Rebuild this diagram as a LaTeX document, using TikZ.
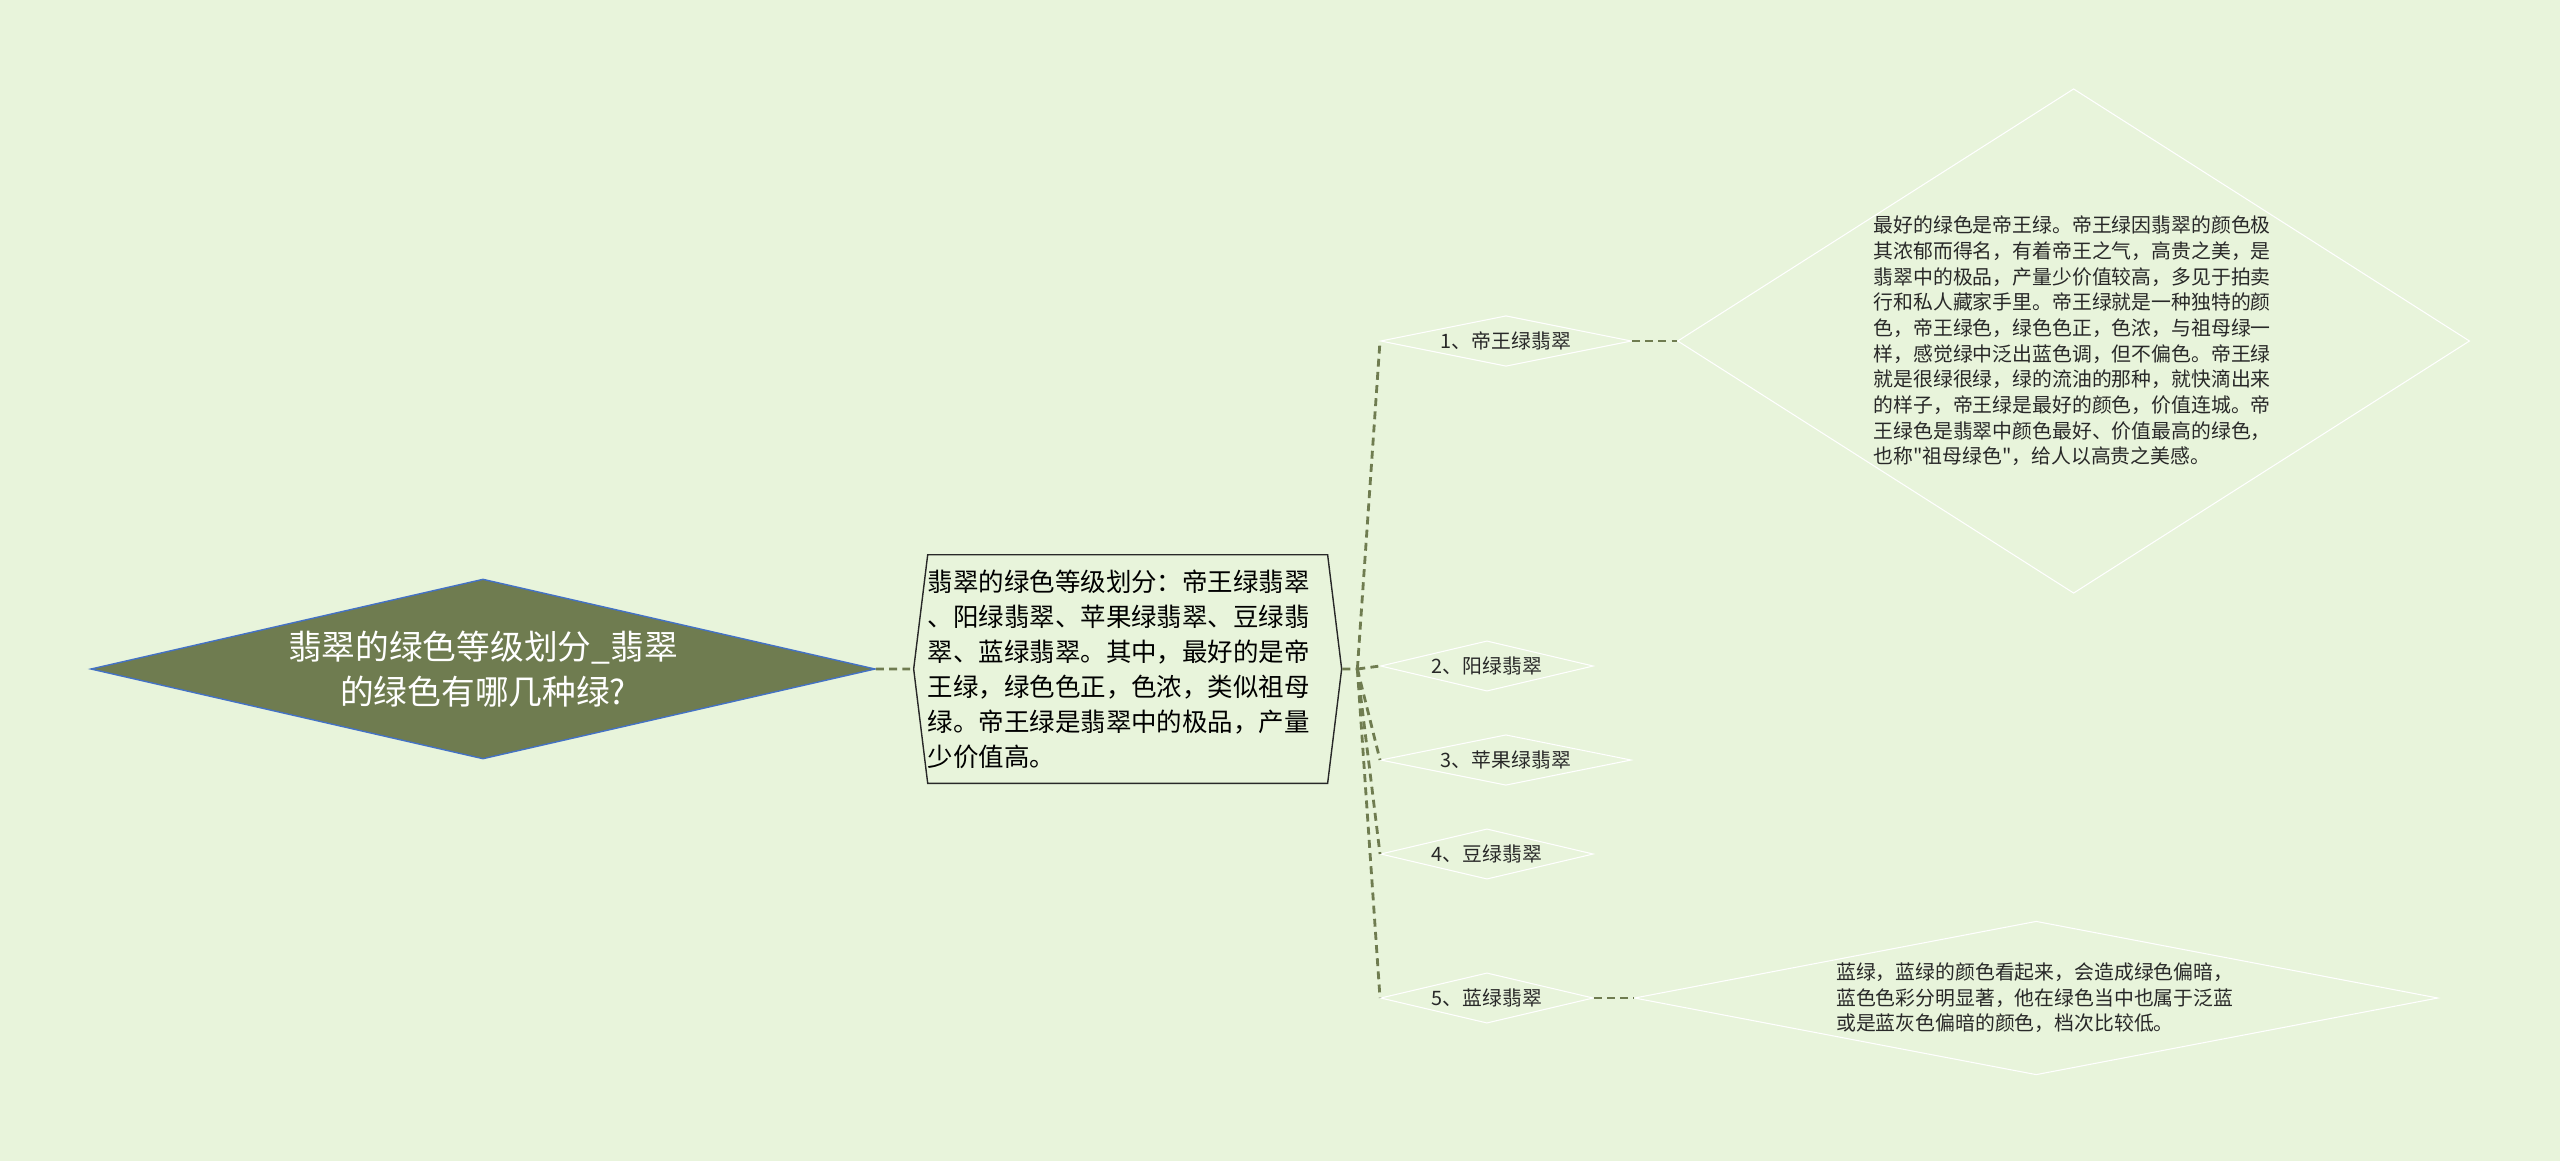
\documentclass[tikz,border=0pt]{standalone}
\usepackage{fontspec}
\setmainfont{Noto Sans CJK SC}[Ligatures=TeXOff]
\usetikzlibrary{shapes.geometric,shapes.symbols,positioning}
\definecolor{bgcol}{RGB}{232,244,219}
\definecolor{moss}{RGB}{111,124,80}
\definecolor{edgeblue}{RGB}{68,114,196}
\definecolor{ink}{RGB}{40,40,40}
\begin{document}
\begin{tikzpicture}[x=0.02cm, y=-0.02cm,
    link/.style={draw=moss, line width=1.6pt, dash pattern=on 4.5pt off 3pt},
    leaf/.style={shape=diamond, draw=white, line width=0.6pt, inner xsep=0pt, inner ysep=0.06cm, text=ink, font=\fontsize{11.3}{14.6}\selectfont, anchor=west},
    note/.style={shape=diamond, draw=white, line width=0.6pt, inner sep=0pt, text width=8cm, align=left, text=ink, font=\fontsize{11.3}{14.6}\selectfont}]
  \useasboundingbox[fill=bgcol] (0,0) rectangle (2560,1161);
  % root and summary
  \node[shape=diamond, aspect=4.36, fill=moss, draw=edgeblue, line width=0.8pt, inner sep=0.116cm, text=white, align=center, font=\fontsize{19.2}{25.6}\selectfont] (root) at (483,669) {翡翠的绿色等级划分\_翡翠\\的绿色有哪几种绿?};
  \node[signal, signal to=west and east, signal pointer angle=166, draw=ink, line width=0.8pt, text width=8cm, inner xsep=0pt, inner ysep=0.3cm, align=left, font=\fontsize{14.5}{19.9}\selectfont, right=0.74cm of root] (mid) {翡翠的绿色等级划分：帝王绿翡翠\\、阳绿翡翠、苹果绿翡翠、豆绿翡\\翠、蓝绿翡翠。其中，最好的是帝\\王绿，绿色色正，色浓，类似祖母\\绿。帝王绿是翡翠中的极品，产量\\少价值高。};
  \coordinate[right=0.3cm of mid] (hub);
  % the five grades
  \node[leaf, aspect=4.96] (b1) at (1380,341) {1、帝王绿翡翠};
  \node[leaf, aspect=4.23] (b2) at (1380,666) {2、阳绿翡翠};
  \node[leaf, aspect=4.96] (b3) at (1380,760) {3、苹果绿翡翠};
  \node[leaf, aspect=4.23] (b4) at (1380,854) {4、豆绿翡翠};
  \node[leaf, aspect=4.23] (b5) at (1380,998) {5、蓝绿翡翠};
  % notes
  \node[note, aspect=1.57, right=0.9cm of b1] (d1) {最好的绿色是帝王绿。帝王绿因翡翠的颜色极\\其浓郁而得名，有着帝王之气，高贵之美，是\\翡翠中的极品，产量少价值较高，多见于拍卖\\行和私人藏家手里。帝王绿就是一种独特的颜\\色，帝王绿色，绿色色正，色浓，与祖母绿一\\样，感觉绿中泛出蓝色调，但不偏色。帝王绿\\就是很绿很绿，绿的流油的那种，就快滴出来\\的样子，帝王绿是最好的颜色，价值连城。帝\\王绿色是翡翠中颜色最好、价值最高的绿色，\\也称"祖母绿色"，给人以高贵之美感。};
  \node[note, aspect=5.23, inner ysep=0.07cm, right=0.8cm of b5] (d5) {蓝绿，蓝绿的颜色看起来，会造成绿色偏暗，\\蓝色色彩分明显著，他在绿色当中也属于泛蓝\\或是蓝灰色偏暗的颜色，档次比较低。};
  % connectors
  \draw[link] (root) -- (mid);
  \draw[link] (mid) -- (hub);
  \foreach \b in {b1,b2,b3,b4,b5}
    \draw[link] (hub) -- (\b.west);
  \draw[link] (b1) -- (d1);
  \draw[link] (b5) -- (d5);
\end{tikzpicture}
\end{document}
